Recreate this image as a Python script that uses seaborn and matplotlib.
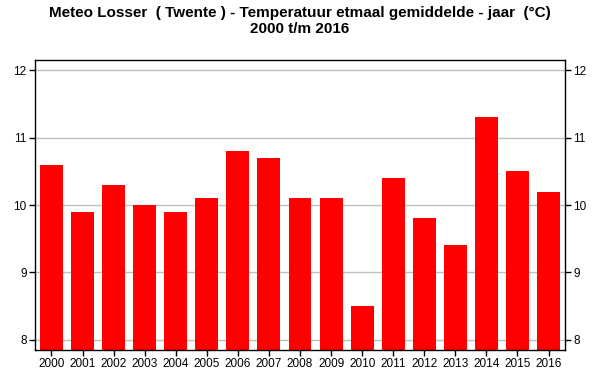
import matplotlib
matplotlib.use("Agg")
import matplotlib.pyplot as plt
import seaborn as sns
import pandas as pd

years = ["2000", "2001", "2002", "2003", "2004", "2005", "2006", "2007", "2008",
         "2009", "2010", "2011", "2012", "2013", "2014", "2015", "2016"]
temps = [10.6, 9.9, 10.3, 10.0, 9.9, 10.1, 10.8, 10.7, 10.1,
         10.1, 8.5, 10.4, 9.8, 9.4, 11.3, 10.5, 10.2]
yticks = [8, 9, 10, 11, 12]

sns.set_style("white")
plt.rcParams['font.family'] = ['Liberation Sans', 'DejaVu Sans']
plt.rcParams['text.color'] = 'black'
plt.rcParams['xtick.color'] = 'black'
plt.rcParams['ytick.color'] = 'black'

df = pd.DataFrame({"jaar": years, "temp": temps})

fig = plt.figure(figsize=(6, 3.9), dpi=100)
ax = fig.add_axes([35 / 600, 40 / 390, 530 / 600, 290 / 390])

sns.barplot(data=df, x="jaar", y="temp", color="#ff0000", saturation=1,
            width=0.74, linewidth=0, ax=ax, zorder=2)

ax.set_ylim(7.85, 12.15)
ax.set_xlim(-0.53, len(years) - 0.47)
ax.set_yticks(yticks)
ax.yaxis.grid(True, color="#c0c0c0", linewidth=1, zorder=0)
ax.set_axisbelow(True)
ax.set_xlabel("")
ax.set_ylabel("")

for s in ax.spines.values():
    s.set_color("black")
    s.set_linewidth(1)

ax.tick_params(axis="both", direction="out", length=4, width=1, color="black",
               labelcolor="black", labelsize=8.5, pad=2, bottom=True,
               left=True, right=True, labelright=True)

fig.suptitle("Meteo Losser  ( Twente ) - Temperatuur etmaal gemiddelde - jaar  (°C)\n2000 t/m 2016",
             fontsize=11, fontweight="bold", color="black", y=0.985,
             linespacing=1.2)

fig.savefig("out.png", dpi=100)
plt.close()
